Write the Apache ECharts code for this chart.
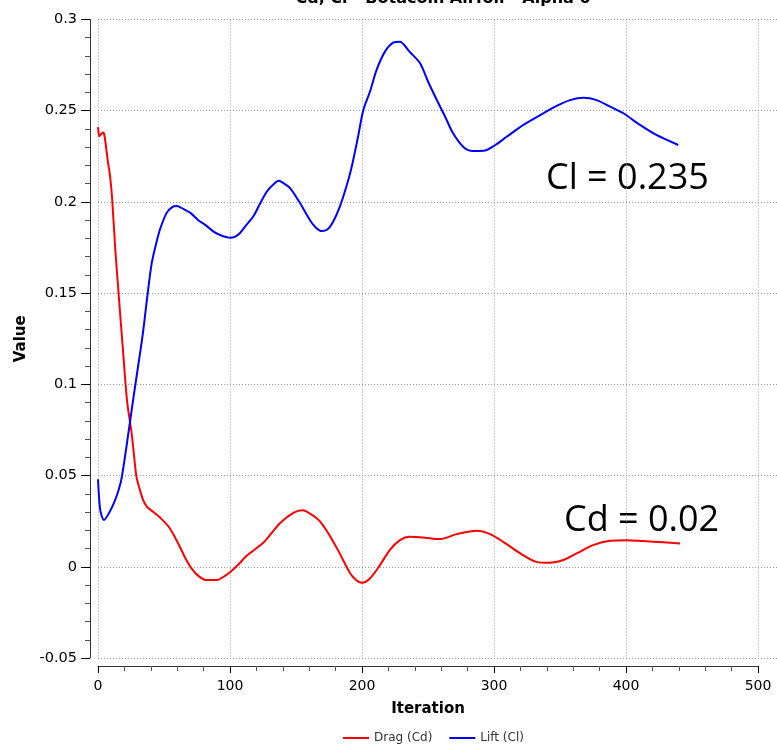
<!DOCTYPE html>
<html>
<head>
<meta charset="utf-8">
<script src="https://cdn.jsdelivr.net/npm/echarts@6/dist/echarts.min.js"></script>
<style>
  html, body { margin: 0; padding: 0; background: #ffffff; }
  #chart { width: 777px; height: 746px; }
</style>
</head>
<body>
<div id="chart"></div>
<script>
// Drag coefficient history
const dragIter = [0, 1, 2, 4, 5, 7.5, 9, 10.6, 13, 16, 19, 22, 25.5, 29, 31, 34, 37, 42, 47, 54.5, 62, 66, 71, 76, 82, 90, 95, 100, 106, 112.6, 125, 131, 138, 148, 155, 163, 168, 173, 178, 183, 191, 196, 200, 206, 213.6, 221, 228.8, 236, 246, 259, 271.7, 287, 297, 307, 320, 332, 342, 352.5, 362.6, 375, 388, 400.5, 413, 428, 441];
const dragCd = [0.241, 0.236, 0.237, 0.238, 0.236, 0.222, 0.215, 0.203, 0.175, 0.146, 0.118, 0.091, 0.073, 0.050, 0.044, 0.037, 0.033, 0.030, 0.027, 0.021, 0.011, 0.005, -0.001, -0.005, -0.0073, -0.0073, -0.0055, -0.003, 0.001, 0.006, 0.013, 0.018, 0.024, 0.0296, 0.031, 0.028, 0.025, 0.020, 0.014, 0.0075, -0.0035, -0.0075, -0.0088, -0.0064, 0.0009, 0.0092, 0.0146, 0.0164, 0.0161, 0.0152, 0.0179, 0.0197, 0.0179, 0.0137, 0.0073, 0.0027, 0.0022, 0.0037, 0.0073, 0.0119, 0.0143, 0.0146, 0.0141, 0.0134, 0.0128];

// Lift coefficient history
const liftIter = [0, 1, 2, 4.5, 8, 13, 16, 18, 22, 26.5, 30, 34, 37, 40.6, 44, 47, 52, 56, 59.6, 65, 70, 76, 82, 87, 92, 100, 104, 107.6, 112, 117.6, 122, 127.8, 132, 137, 141, 145.5, 153, 160.6, 165, 169.5, 174, 178, 183, 188, 192, 197, 201, 206, 211, 217.4, 223.7, 228.8, 232, 236, 244, 250, 256.6, 263, 269, 277, 284, 292, 301, 309.6, 322, 335, 347.5, 357.6, 367.7, 377.8, 388, 398, 410.6, 423, 439.6];
const liftCl = [0.048, 0.036, 0.030, 0.0256, 0.029, 0.0366, 0.043, 0.049, 0.068, 0.091, 0.108, 0.128, 0.146, 0.166, 0.177, 0.185, 0.194, 0.197, 0.1977, 0.196, 0.194, 0.190, 0.187, 0.184, 0.182, 0.1804, 0.181, 0.183, 0.187, 0.192, 0.198, 0.2056, 0.209, 0.2116, 0.210, 0.2076, 0.1994, 0.190, 0.186, 0.184, 0.185, 0.189, 0.197, 0.208, 0.2186, 0.2357, 0.2504, 0.2604, 0.2723, 0.2824, 0.2873, 0.2878, 0.2860, 0.2824, 0.276, 0.266, 0.256, 0.2467, 0.2376, 0.230, 0.2279, 0.228, 0.2312, 0.2357, 0.2421, 0.2476, 0.2526, 0.2558, 0.2571, 0.2558, 0.2522, 0.2486, 0.2422, 0.2367, 0.2312];

const seriesNames = ['Drag (Cd)', 'Lift (Cl)'];
const seriesColors = ['#ff0000', '#0000ff'];
const titleText = 'Cd, Cl - Botacoin Airfoil - Alpha 0';
const noteCl = 'Cl = 0.235';
const noteCd = 'Cd = 0.02';

const FONT = 'DejaVu Sans';
const pairs = (xs, ys) => xs.map((x, i) => [x, ys[i]]);

const gridBox = { left: 98, right: 19, top: 19.5, bottom: 88 };
const dotted = { show: true, lineStyle: { color: '#9a9a9a', type: [1, 2], width: 1 } };

const chart = echarts.init(document.getElementById('chart'), null, { renderer: 'canvas' });
chart.setOption({
  animation: false,
  backgroundColor: '#ffffff',
  title: {
    text: titleText,
    left: 438, textAlign: 'center',
    top: -14,
    textStyle: { fontFamily: FONT, fontSize: 16, fontWeight: 'bold', color: '#000' }
  },
  legend: {
    data: seriesNames,
    icon: 'rect',
    left: 338, top: 727,
    itemWidth: 26, itemHeight: 2, itemGap: 17,
    textStyle: { fontFamily: FONT, fontSize: 12, color: '#333' }
  },
  grid: [
    Object.assign({}, gridBox),
    { left: 758, right: 0, top: 19.5, bottom: 88 }
  ],
  xAxis: [{
    gridIndex: 0,
    type: 'value', min: 0, max: 500, interval: 100,
    offset: 8,
    name: 'Iteration', nameLocation: 'middle', nameGap: 36,
    nameTextStyle: { fontFamily: FONT, fontSize: 15, fontWeight: 'bold', color: '#000' },
    axisLine: { show: true, onZero: false, lineStyle: { color: '#333', width: 1 } },
    axisTick: { show: true, inside: false, length: 7, lineStyle: { color: '#000' } },
    minorTick: { show: true, splitNumber: 5, length: 5, lineStyle: { color: '#555' } },
    axisLabel: { fontFamily: FONT, fontSize: 14, color: '#000', margin: 13 },
    splitLine: dotted
  }, {
    gridIndex: 1, type: 'value', min: 0, max: 1, show: false
  }],
  yAxis: [{
    gridIndex: 0,
    type: 'value', min: -0.05, max: 0.3, interval: 0.05,
    offset: 8,
    name: 'Value', nameLocation: 'middle', nameGap: 60, nameRotate: 90,
    nameTextStyle: { fontFamily: FONT, fontSize: 15, fontWeight: 'bold', color: '#000' },
    axisLine: { show: true, onZero: false, lineStyle: { color: '#333', width: 1 } },
    axisTick: { show: true, inside: false, length: 9, lineStyle: { color: '#000' } },
    minorTick: { show: true, splitNumber: 5, length: 5, lineStyle: { color: '#555' } },
    axisLabel: { fontFamily: FONT, fontSize: 14.5, color: '#000', margin: 13,
      formatter: v => String(parseFloat(v.toFixed(3))) },
    splitLine: dotted
  }, {
    gridIndex: 1,
    type: 'value', min: -0.05, max: 0.3, interval: 0.05,
    axisLine: { show: false }, axisTick: { show: false }, axisLabel: { show: false },
    splitLine: dotted
  }],
  series: [{
    name: seriesNames[0], type: 'line', xAxisIndex: 0, yAxisIndex: 0,
    data: pairs(dragIter, dragCd),
    symbol: 'none', smooth: 0.3,
    lineStyle: { color: seriesColors[0], width: 2 },
    itemStyle: { color: seriesColors[0] }
  }, {
    name: seriesNames[1], type: 'line', xAxisIndex: 0, yAxisIndex: 0,
    data: pairs(liftIter, liftCl),
    symbol: 'none', smooth: 0.3,
    lineStyle: { color: seriesColors[1], width: 2 },
    itemStyle: { color: seriesColors[1] }
  }],
  graphic: [{
    type: 'text', left: 546, top: 161,
    style: { text: noteCl, fontFamily: 'Open Sans', fontSize: 36, fill: '#000' }
  }, {
    type: 'text', left: 564, top: 503,
    style: { text: noteCd, fontFamily: 'Open Sans', fontSize: 36, fill: '#000' }
  }]
});
</script>
</body>
</html>
